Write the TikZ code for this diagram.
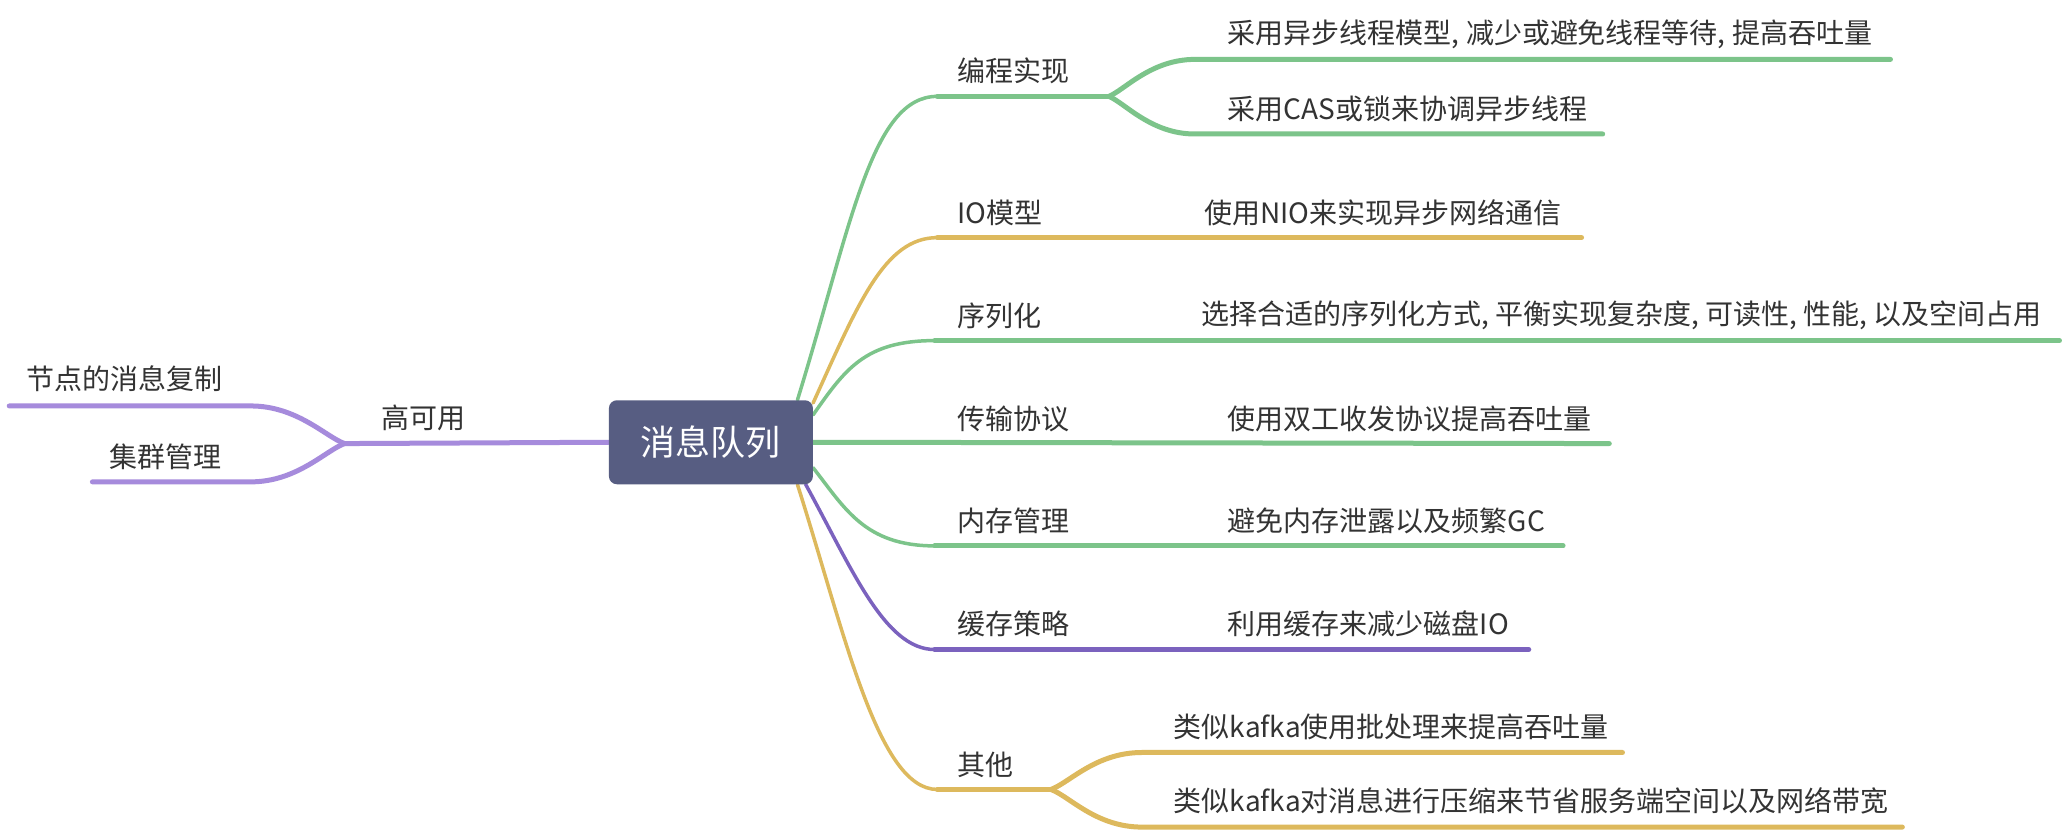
\documentclass[tikz,border=0pt]{standalone}
\usepackage{fontspec}
\newfontfamily\cjk{Noto Sans CJK SC}
\definecolor{mgreen}{HTML}{7CC48A}
\definecolor{mgold}{HTML}{DDB95D}
\definecolor{lpurple}{HTML}{A68BDC}
\definecolor{dpurple}{HTML}{7B62BE}
\definecolor{rootfill}{HTML}{575D82}
\definecolor{txt}{HTML}{333333}
\pgfdeclarelayer{bg}
\pgfsetlayers{bg,main}
\begin{document}
\begin{tikzpicture}[x=1.3202pt,y=-1.3202pt,
  lbl/.style={font=\cjk\fontsize{28}{32}\selectfont, text=txt, anchor=west, inner sep=0pt},
  trunk/.style={line width=3.5pt, line cap=round},
  twig/.style={line width=5pt, line cap=round}]
\useasboundingbox (0,0) rectangle (1568,630);
\node[fill=rootfill, rounded corners=8pt, minimum width=204pt, minimum height=84pt, inner sep=0pt, text=white, font=\cjk\fontsize{35}{40}\selectfont] (root) at (538.5,335) {消息队列};

\node[lbl] (t1) at (725,54) {编程实现};
\node[lbl] (t1a) at (930,26) {采用异步线程模型, 减少或避免线程等待, 提高吞吐量};
\node[lbl] (t1b) at (930,82.5) {采用CAS或锁来协调异步线程};
\node[lbl] (t2) at (725,161) {IO模型};
\node[lbl] (t2a) at (912,161) {使用NIO来实现异步网络通信};
\node[lbl] (t3) at (725,239) {序列化};
\node[lbl] (t3a) at (910,239) {选择合适的序列化方式, 平衡实现复杂度, 可读性, 性能, 以及空间占用};
\node[lbl] (t4) at (725,317) {传输协议};
\node[lbl] (t4a) at (930,317) {使用双工收发协议提高吞吐量};
\node[lbl] (t5) at (725,394.5) {内存管理};
\node[lbl] (t5a) at (930,394.5) {避免内存泄露以及频繁GC};
\node[lbl] (t6) at (725,472.5) {缓存策略};
\node[lbl] (t6a) at (930,472.5) {利用缓存来减少磁盘IO};
\node[lbl] (t7) at (725,579) {其他};
\node[lbl] (t7a) at (889,550.5) {类似kafka使用批处理来提高吞吐量};
\node[lbl] (t7b) at (889,607) {类似kafka对消息进行压缩来节省服务端空间以及网络带宽};
\node[lbl] (h) at (289,316.5) {高可用};
\node[lbl] (ha) at (20,287) {节点的消息复制};
\node[lbl] (hb) at (83,346) {集群管理};

\coordinate (b1) at (710,73); \coordinate (j1) at (840,73);
\coordinate (c1as) at (905,45); \coordinate (c1ae) at (1432,45);
\coordinate (c1bs) at (905,101.5); \coordinate (c1be) at (1214,101.5);
\coordinate (b2) at (710,180); \coordinate (e2) at (1198,180);
\coordinate (b3) at (708,258); \coordinate (e3) at (1560,258);
\coordinate (e4) at (1219,336);
\coordinate (b5) at (708,413.5); \coordinate (e5) at (1184,413.5);
\coordinate (b6) at (708,492); \coordinate (e6) at (1158,492);
\coordinate (b7) at (710,598); \coordinate (j7) at (796,598);
\coordinate (c7as) at (865,570); \coordinate (c7ae) at (1229,570);
\coordinate (c7bs) at (865,626.5); \coordinate (c7be) at (1441,626.5);
\coordinate (jh) at (261,336);
\coordinate (hs1) at (190,307.5); \coordinate (he1) at (7,307.5);
\coordinate (hs2) at (190,365); \coordinate (he2) at (70,365);

\begin{pgfonlayer}{bg}
\fill[white] (0,0) rectangle (1568,630);
% 1
\draw[trunk,mgreen] (root.26) .. controls (645,170) and (660,73) .. (b1);
\draw[twig,mgreen] (b1) -- (j1);
\draw[twig,mgreen] (j1) .. controls (852,68) and (872,45) .. (c1as) -- (c1ae);
\draw[twig,mgreen] (j1) .. controls (852,78) and (872,101.5) .. (c1bs) -- (c1be);
% 2
\draw[trunk,mgold] (root.21) .. controls (650,230) and (670,180) .. (b2);
\draw[twig,mgold] (b2) -- (e2);
% 3
\draw[trunk,mgreen] (root.15) .. controls (640,280) and (655,258) .. (b3);
\draw[twig,mgreen] (b3) -- (e3);
% 4
\draw[twig,mgreen] (root.east) -- (e4);
% 5
\draw[trunk,mgreen] (root.-14) .. controls (640,385) and (655,413.5) .. (b5);
\draw[twig,mgreen] (b5) -- (e5);
% 6
\draw[trunk,dpurple] (root.-24) .. controls (645,430) and (670,492) .. (b6);
\draw[twig,dpurple] (b6) -- (e6);
% 7
\draw[trunk,mgold] (root.-26.5) .. controls (640,480) and (665,598) .. (b7);
\draw[twig,mgold] (b7) -- (j7);
\draw[twig,mgold] (j7) .. controls (810,593) and (830,570) .. (c7as) -- (c7ae);
\draw[twig,mgold] (j7) .. controls (810,603) and (830,626.5) .. (c7bs) -- (c7be);
% left
\draw[twig,lpurple] (root.west) -- (jh);
\draw[twig,lpurple] (jh) .. controls (247,331) and (225,307.5) .. (hs1) -- (he1);
\draw[twig,lpurple] (jh) .. controls (247,341) and (225,365) .. (hs2) -- (he2);
\end{pgfonlayer}
\end{tikzpicture}
\end{document}
